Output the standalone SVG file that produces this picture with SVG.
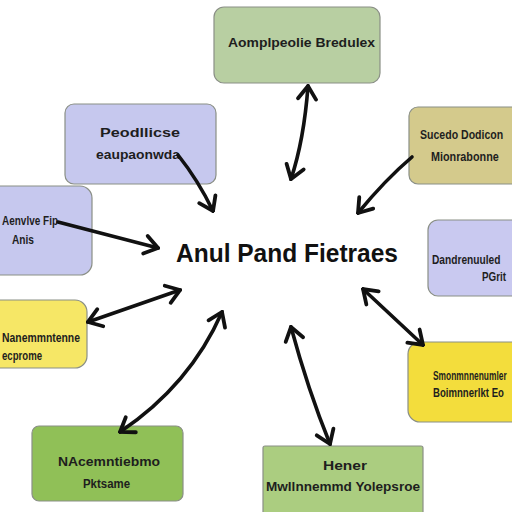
<svg xmlns="http://www.w3.org/2000/svg" width="512" height="512" viewBox="0 0 512 512">
<style>
.box{stroke:#8a8f86;stroke-width:1.2}
.t{font-family:"Liberation Sans",Arial,sans-serif;font-weight:bold;font-size:12px;fill:#1e1e1e}
.title{font-family:"Liberation Sans",Arial,sans-serif;font-weight:bold;font-size:25px;fill:#111}
.c{fill:none;stroke:#111;stroke-width:3.6;stroke-linecap:round}
</style>
<defs>
<marker id="ah" viewBox="-16 -12 18 24" refX="0" refY="0" markerWidth="18" markerHeight="24" markerUnits="userSpaceOnUse" orient="auto-start-reverse">
<path d="M-13,-9 L0,0 L-13,9" fill="none" stroke="#111" stroke-width="3.8" stroke-linecap="round"/>
</marker>
</defs>
<rect width="512" height="512" fill="#ffffff"/>

<g id="center">
<text class="title" x="176" y="262" textLength="222" lengthAdjust="spacingAndGlyphs">Anul Pand Fietraes</text>
</g>

<g id="n-top">
<rect class="box" x="214" y="7" width="166" height="76" rx="10" fill="#b8cfa2"/>
<text class="t" x="228" y="47" textLength="147" lengthAdjust="spacingAndGlyphs">Aomplpeolie Bredulex</text>
</g>

<g id="n-upleft">
<rect class="box" x="65" y="104" width="151" height="80" rx="9" fill="#c6c8ee"/>
<text class="t" x="100" y="137" textLength="80" lengthAdjust="spacingAndGlyphs">Peodllicse</text>
<text class="t" x="96" y="159" textLength="84" lengthAdjust="spacingAndGlyphs">eaupaonwda</text>
</g>

<g id="n-upright">
<rect class="box" x="409" y="107" width="115" height="77" rx="9" fill="#d4ca8c"/>
<text class="t" transform="translate(420,139) scale(0.88,1)">Sucedo Dodicon</text>
<text class="t" transform="translate(431,161) scale(0.9,1)">Mionrabonne</text>
</g>

<g id="n-left">
<rect class="box" x="-12" y="186" width="104" height="89" rx="12" fill="#c6c8ee"/>
<text class="t" x="2" y="225" textLength="56" lengthAdjust="spacingAndGlyphs">Aenvlve Fip</text>
<text class="t" x="12" y="244" textLength="22" lengthAdjust="spacingAndGlyphs">Anis</text>
</g>

<g id="n-right">
<rect class="box" x="428" y="220" width="96" height="76" rx="10" fill="#c9c9f0"/>
<text class="t" transform="translate(432,264) scale(0.85,1)">Dandrenuuled</text>
<text class="t" x="482" y="281" textLength="24" lengthAdjust="spacingAndGlyphs">PGrit</text>
</g>

<g id="n-leftyellow">
<rect class="box" x="-12" y="300" width="99" height="68" rx="12" fill="#f6e766"/>
<text class="t" x="2" y="342" textLength="78" lengthAdjust="spacingAndGlyphs">Nanemmntenne</text>
<text class="t" x="2" y="360" textLength="40" lengthAdjust="spacingAndGlyphs">ecprome</text>
</g>

<g id="n-rightyellow">
<rect class="box" x="408" y="342" width="116" height="80" rx="12" fill="#f3dd3c"/>
<text class="t" transform="translate(433,380) scale(0.7,1)">Smonmnnenumler</text>
<text class="t" transform="translate(433,397) scale(0.8,1)">Boimnnerlkt Eo</text>
</g>

<g id="n-botleft">
<rect class="box" x="32" y="426" width="151" height="75" rx="7" fill="#90c057"/>
<text class="t" x="58" y="466" textLength="102" lengthAdjust="spacingAndGlyphs">NAcemntiebmo</text>
<text class="t" x="83" y="488" textLength="47" lengthAdjust="spacingAndGlyphs">Pktsame</text>
</g>

<g id="n-botright">
<rect class="box" x="263" y="446" width="160" height="70" rx="2" fill="#abcd80"/>
<text class="t" x="323" y="470" textLength="44" lengthAdjust="spacingAndGlyphs">Hener</text>
<text class="t" x="266" y="491" textLength="154" lengthAdjust="spacingAndGlyphs">Mwllnnemmd Yolepsroe</text>
</g>

<g id="connectors">
<path class="c" d="M308,86 Q304,140 291,179" marker-start="url(#ah)" marker-end="url(#ah)"/>
<path class="c" d="M178,155 Q198,180 213,211" marker-end="url(#ah)"/>
<path class="c" d="M412,157 Q385,180 358,213" marker-end="url(#ah)"/>
<path class="c" d="M58,222 L158,248" marker-end="url(#ah)"/>
<path class="c" d="M88,322 L180,290" marker-start="url(#ah)" marker-end="url(#ah)"/>
<path class="c" d="M222,312 Q190,385 120,432" marker-start="url(#ah)" marker-end="url(#ah)"/>
<path class="c" d="M291,327 Q308,390 330,444" marker-start="url(#ah)" marker-end="url(#ah)"/>
<path class="c" d="M363,289 L423,345" marker-start="url(#ah)" marker-end="url(#ah)"/>
</g>
</svg>
